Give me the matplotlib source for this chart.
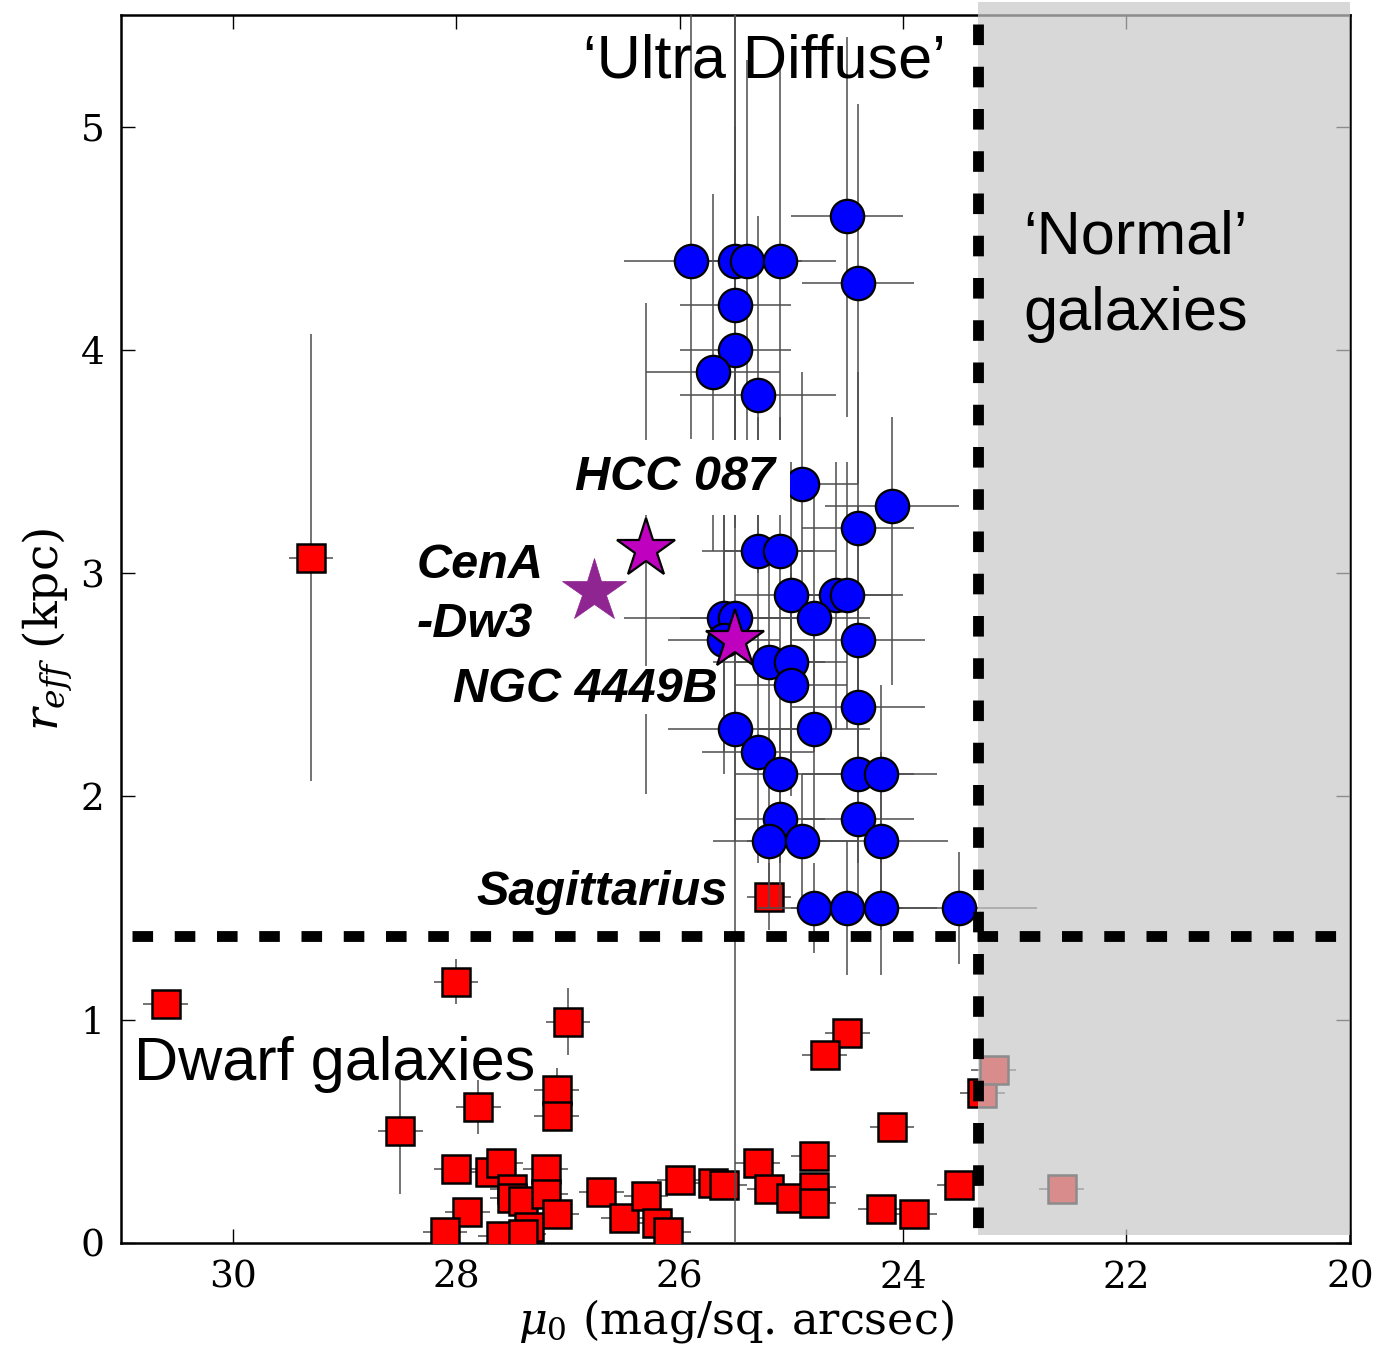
import numpy as np
import matplotlib
matplotlib.use('Agg')
import matplotlib.pyplot as plt
from matplotlib.patches import Rectangle

plt.rcParams['font.family'] = 'DejaVu Serif'
plt.rcParams['mathtext.fontset'] = 'dejavuserif'

# ultra diffuse candidates (blue circles)
udg_mu = [24.5, 25.9, 25.5, 25.4, 25.1, 24.4, 25.5, 25.5, 25.7, 25.3,
          24.9, 24.1, 24.4, 25.3, 25.1, 25.0, 24.6, 24.5, 24.8, 25.6,
          25.5, 25.6, 24.4, 25.2, 25.0, 25.0, 25.5, 24.8, 24.4, 25.3,
          25.1, 24.4, 24.2, 25.1, 24.4, 25.2, 24.9, 24.2, 24.8, 24.5,
          24.2, 23.5]
udg_reff = [4.6, 4.4, 4.4, 4.4, 4.4, 4.3, 4.2, 4.0, 3.9, 3.8,
            3.4, 3.3, 3.2, 3.1, 3.1, 2.9, 2.9, 2.9, 2.8, 2.8,
            2.8, 2.7, 2.7, 2.6, 2.6, 2.5, 2.3, 2.3, 2.4, 2.2,
            2.1, 2.1, 2.1, 1.9, 1.9, 1.8, 1.8, 1.8, 1.5, 1.5,
            1.5, 1.5]
udg_mu_err = [0.5, 0.6, 0.5, 0.5, 0.5, 0.5, 0.5, 0.5, 0.6, 0.7,
              0.5, 0.6, 0.5, 0.5, 0.5, 0.5, 0.5, 0.5, 0.5, 0.9,
              0.5, 0.5, 0.6, 0.5, 0.5, 0.5, 0.6, 0.5, 0.6, 0.5,
              0.4, 0.5, 0.5, 0.4, 0.5, 0.5, 0.5, 0.6, 0.5, 0.5,
              0.5, 0.7]
udg_reff_lo = [0.9, 0.8, 0.9, 0.9, 0.9, 0.9, 0.8, 0.8, 0.8, 0.8,
               0.6, 0.8, 0.7, 0.6, 0.6, 0.6, 0.6, 0.6, 0.6, 0.6,
               2.8, 0.6, 0.6, 0.5, 0.5, 0.5, 0.5, 0.5, 0.5, 0.5,
               0.4, 0.4, 0.4, 0.4, 0.4, 0.3, 0.3, 0.4, 0.2, 0.3,
               0.3, 0.25]
udg_reff_hi = [0.8, 1.2, 1.2, 0.9, 0.9, 0.8, 0.8, 0.8, 0.8, 0.8,
               0.5, 0.4, 0.7, 0.6, 0.6, 0.6, 0.6, 0.6, 0.6, 0.6,
               2.8, 0.6, 0.6, 0.5, 0.5, 0.5, 0.5, 0.5, 0.5, 0.5,
               0.4, 0.4, 0.4, 0.4, 0.4, 0.3, 0.3, 0.4, 0.2, 0.3,
               0.3, 0.25]

# dwarf galaxies (red squares)
dw_mu = [30.6, 28.0, 27.0, 24.5, 24.7, 27.1, 27.1, 27.8, 28.5, 24.1,
         23.29, 23.19, 22.58, 28.0, 27.7, 27.6, 27.5, 27.5, 27.4, 27.2,
         27.2, 27.1, 27.35, 27.9, 28.1, 27.6, 27.4, 26.7, 26.5, 26.3,
         26.2, 26.1, 26.0, 25.7, 25.6, 25.3, 25.2, 25.0, 24.8, 24.8,
         24.8, 24.2, 23.9, 23.5, 29.3, 25.2]
dw_reff = [1.07, 1.17, 0.99, 0.94, 0.84, 0.685, 0.57, 0.61, 0.50, 0.52,
           0.67, 0.775, 0.24, 0.33, 0.32, 0.36, 0.24, 0.20, 0.19, 0.33,
           0.22, 0.13, 0.07, 0.14, 0.05, 0.03, 0.04, 0.23, 0.11, 0.21,
           0.09, 0.05, 0.28, 0.27, 0.26, 0.36, 0.24, 0.20, 0.39, 0.25,
           0.18, 0.15, 0.13, 0.26, 3.07, 1.55]
dw_mu_err = [0.2] * 44 + [0.2, 0.2]
dw_reff_err = [0.05, 0.1, 0.15, 0.05, 0.05, 0.1, 0.05, 0.12, 0.28, 0.05,
               0.03, 0.03, 0.03, 0.05, 0.05, 0.05, 0.05, 0.05, 0.05, 0.05,
               0.05, 0.05, 0.05, 0.05, 0.05, 0.05, 0.05, 0.05, 0.05, 0.05,
               0.05, 0.05, 0.05, 0.05, 0.05, 0.05, 0.05, 0.05, 0.05, 0.05,
               0.05, 0.05, 0.05, 0.05, 1.0, 0.15]

# highlighted objects (stars)
hcc_mu, hcc_reff, hcc_reff_err = 26.3, 3.11, 1.1
cena_mu, cena_reff = 26.77, 2.92
ngc_mu, ngc_reff = 25.5, 2.70

mu_cut = 23.33
reff_cut = 1.375

fig = plt.figure(figsize=(13.81, 13.5), dpi=100)
ax = fig.add_axes([0.0876, 0.0793, 0.8899, 0.9096])

ecol = '0.3'
ax.errorbar(dw_mu, dw_reff, xerr=dw_mu_err, yerr=dw_reff_err, fmt='s',
            ms=19.5, mfc='r', mec='k', mew=1.8, ecolor=ecol, elinewidth=1.1,
            capsize=0, zorder=3)
ax.errorbar(udg_mu, udg_reff, xerr=udg_mu_err, yerr=[udg_reff_lo, udg_reff_hi],
            fmt='o', ms=24, mfc='b', mec='k', mew=1.6, ecolor=ecol,
            elinewidth=1.1, capsize=0, zorder=4)
ax.errorbar([hcc_mu], [hcc_reff], yerr=[hcc_reff_err], fmt='none',
            ecolor=ecol, elinewidth=1.1, zorder=4)
ax.plot([hcc_mu], [hcc_reff], '*', ms=44, mfc='#bf00bf', mec='k', mew=1.6, zorder=6)
ax.plot([ngc_mu], [ngc_reff], '*', ms=44, mfc='#bf00bf', mec='k', mew=1.6, zorder=6)
ax.plot([cena_mu], [cena_reff], '*', ms=48, mfc='#8e2590', mec='#8e2590', mew=0.5, zorder=6)

# shaded 'normal galaxy' region
ax.add_patch(Rectangle((mu_cut, 0.036), 20 - mu_cut, 5.52, facecolor='0.786',
                       edgecolor='none', alpha=0.7, zorder=10, clip_on=False))

dash = (0, (1.9, 2.0))
ax.plot([mu_cut, mu_cut], [5.46, 0.0], color='k', lw=7.8, ls=dash, zorder=11)
ax.plot([30.9, 20.0], [reff_cut, reff_cut], color='k', lw=7.8, ls=dash, zorder=11)

big = dict(family='Liberation Sans', fontsize=44, zorder=12)
ax.text(25.24, 5.29, u'\u2018Ultra Diffuse\u2019', ha='center', va='center', **big)
ax.text(21.92, 4.33, u'\u2018Normal\u2019\ngalaxies', ha='center', va='center',
        linespacing=1.45, **big)
ax.text(30.88, 0.8, 'Dwarf galaxies', ha='left', va='center', **big)

lab = dict(family='Liberation Sans', fontsize=35, weight='bold', style='italic', zorder=12)
ax.text(25.15, 3.43, 'HCC 087', ha='right', va='center',
        bbox=dict(facecolor='w', edgecolor='none', pad=11), **lab)
ax.text(28.35, 2.9, 'CenA\n-Dw3', ha='left', va='center', linespacing=1.4, **lab)
ax.text(28.03, 2.478, 'NGC 4449B', ha='left', va='center',
        bbox=dict(facecolor='w', edgecolor='none', pad=1), **lab)
ax.text(25.57, 1.568, 'Sagittarius', ha='right', va='center', **lab)

ax.set_xlim(31, 20)
ax.set_ylim(0, 5.5)
ax.set_xticks([30, 28, 26, 24, 22, 20])
ax.set_yticks([0, 1, 2, 3, 4, 5])
ax.tick_params(direction='in', length=10, width=1, top=True, right=True,
               labelsize=27, pad=12)
for s in ax.spines.values():
    s.set_linewidth(1.8)
ax.set_xlabel(r'$\mu_0$ (mag/sq. arcsec)', fontsize=32, labelpad=1)
ax.set_ylabel(r'$r_{eff}$ (kpc)', fontsize=34, labelpad=4)

fig.savefig('out.png', dpi=100)
